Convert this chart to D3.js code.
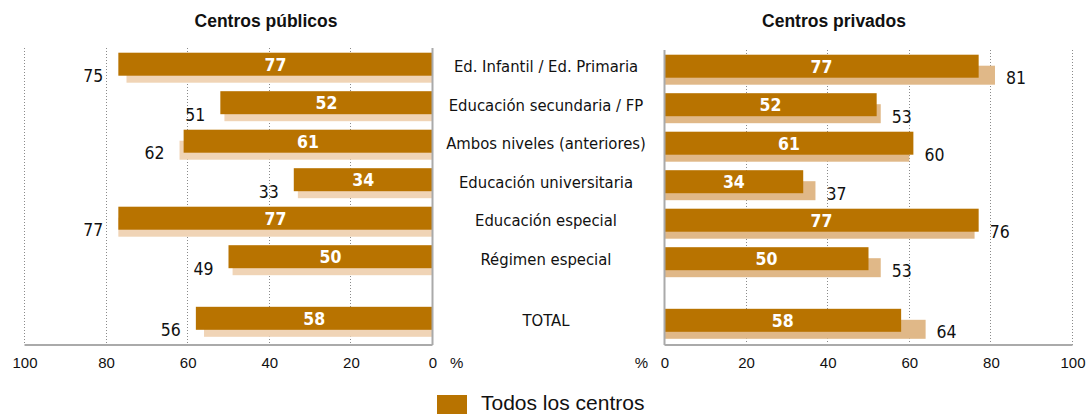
<!DOCTYPE html>
<html>
<head>
<meta charset="utf-8">
<script src="https://cdn.jsdelivr.net/npm/d3@7"></script>
<style>
  html, body { margin: 0; padding: 0; background: #fff; }
  svg { display: block; }
</style>
</head>
<body>
<svg id="chart" width="1089" height="414"></svg>
<script>
const categories = [
  "Ed. Infantil / Ed. Primaria",
  "Educación secundaria / FP",
  "Ambos niveles (anteriores)",
  "Educación universitaria",
  "Educación especial",
  "Régimen especial",
  "TOTAL"
];
const publicTodos  = [77, 52, 61, 34, 77, 50, 58];
const publicSector = [75, 51, 62, 33, 77, 49, 56];
const privateTodos  = [77, 52, 61, 34, 77, 50, 58];
const privateSector = [81, 53, 60, 37, 76, 53, 64];
const tickValues = [0, 20, 40, 60, 80, 100];
const panelTitles = ["Centros públicos", "Centros privados"];
const legendLabels = ["Todos los centros"];

const DARK = "#b87300";
const LIGHT_PUB = "#f0d4b6";
const LIGHT_PRIV = "#e0b888";
const AXIS = "#aaaaaa";
const GRID = "#8a8a8a";
const NARROW = "'Liberation Sans Narrow', 'DejaVu Sans Condensed', 'Liberation Sans', sans-serif";
const SANS = "'Liberation Sans', Arial, sans-serif";

const svg = d3.select("#chart");

// Row positions: six rows, then TOTAL after an extra gap
const rowIndex = categories.map((c, i) => i < categories.length - 1 ? i : i + 0.6);
const yRow = d3.scaleLinear().domain([0, 1]).range([52.7, 91.2]);
const darkH = 23, lightTop = 11, lightH = 19;

const xLeft = d3.scaleLinear().domain([0, 100]).range([432.5, 24.5]);
const xRight = d3.scaleLinear().domain([0, 100]).range([664.5, 1072.5]);
const crisp = v => Math.round(v - 0.5) + 0.5;

function panel(x, todos, other, lightColor, dy, side, topY) {
  const g = svg.append("g").attr("transform", `translate(0,${dy})`);
  const bottomY = 345 - dy;
  // gridlines (dotted)
  g.selectAll("line.grid").data(tickValues.filter(v => v > 0)).enter()
    .append("line")
    .attr("x1", d => crisp(x(d))).attr("x2", d => crisp(x(d)))
    .attr("y1", topY - dy).attr("y2", bottomY)
    .attr("stroke", GRID).attr("stroke-width", 1)
    .attr("stroke-dasharray", "1,2");
  // light bars
  g.selectAll("rect.light").data(other).enter().append("rect")
    .attr("x", d => Math.min(x(0), x(d)))
    .attr("width", d => Math.abs(x(d) - x(0)))
    .attr("y", (d, i) => yRow(rowIndex[i]) + lightTop)
    .attr("height", lightH)
    .attr("fill", lightColor);
  // dark bars
  g.selectAll("rect.dark").data(todos).enter().append("rect")
    .attr("x", d => Math.min(x(0), x(d)))
    .attr("width", d => Math.abs(x(d) - x(0)))
    .attr("y", (d, i) => yRow(rowIndex[i]))
    .attr("height", darkH)
    .attr("fill", DARK);
  // white labels
  g.selectAll("text.dl").data(todos).enter().append("text")
    .attr("x", d => (x(0) + x(d)) / 2)
    .attr("y", (d, i) => yRow(rowIndex[i]) + darkH / 2 + 6.5)
    .attr("text-anchor", "middle")
    .attr("font-family", NARROW).attr("font-weight", "bold")
    .attr("font-size", 17.5).attr("fill", "#fff")
    .text(d => d);
  // other labels
  g.selectAll("text.ol").data(other).enter().append("text")
    .attr("x", (d, i) => side === "left"
      ? x(Math.max(d, todos[i])) - 15
      : x(Math.max(d, todos[i])) + 11)
    .attr("y", (d, i) => yRow(rowIndex[i]) + 29.5)
    .attr("text-anchor", side === "left" ? "end" : "start")
    .attr("font-family", NARROW).attr("font-size", 17.5).attr("fill", "#111")
    .text(d => d);
  // axis lines
  g.append("line")
    .attr("x1", x(0)).attr("x2", x(0))
    .attr("y1", topY - dy).attr("y2", bottomY)
    .attr("stroke", AXIS).attr("stroke-width", 2);
}

panel(xLeft, publicTodos, publicSector, LIGHT_PUB, 0, "left", 48);
panel(xRight, privateTodos, privateSector, LIGHT_PRIV, 2, "right", 50);

// bottom axes
[xLeft, xRight].forEach(x => {
  svg.append("line")
    .attr("x1", x(0)).attr("x2", x(100))
    .attr("y1", 345).attr("y2", 345)
    .attr("stroke", AXIS).attr("stroke-width", 2);
  const ax = d3.axisBottom(x).tickValues(tickValues).tickSize(0).tickPadding(0);
  const ag = svg.append("g").attr("transform", "translate(0,357)").call(ax);
  ag.select(".domain").remove();
  ag.selectAll("text")
    .attr("font-family", SANS).attr("font-size", 15).attr("fill", "#111")
    .attr("dy", "0.71em");
});
svg.append("text").attr("x", 450).attr("y", 368).attr("font-family", SANS)
  .attr("font-size", 15).attr("fill", "#111").text("%");
svg.append("text").attr("x", 648).attr("y", 368).attr("text-anchor", "end")
  .attr("font-family", SANS).attr("font-size", 15).attr("fill", "#111").text("%");

// category labels
svg.selectAll("text.cat").data(categories).enter().append("text")
  .attr("x", 546)
  .attr("y", (d, i) => yRow(rowIndex[i]) + 19.3)
  .attr("text-anchor", "middle")
  .attr("font-family", NARROW).attr("font-size", 16.5).attr("fill", "#111")
  .text(d => d);

// titles
svg.selectAll("text.title").data(panelTitles).enter().append("text")
  .attr("x", (d, i) => i === 0 ? 266 : 834)
  .attr("y", 27.3)
  .attr("text-anchor", "middle")
  .attr("font-family", SANS).attr("font-weight", "bold")
  .attr("font-size", 17.5).attr("fill", "#111")
  .text(d => d);

// legend
const lg = svg.append("g");
lg.append("rect").attr("x", 437).attr("y", 395).attr("width", 30).attr("height", 20).attr("fill", DARK);
lg.append("text").attr("x", 481).attr("y", 409.5)
  .attr("font-family", SANS).attr("font-size", 21).attr("fill", "#111")
  .text(legendLabels[0]);
</script>
</body>
</html>
